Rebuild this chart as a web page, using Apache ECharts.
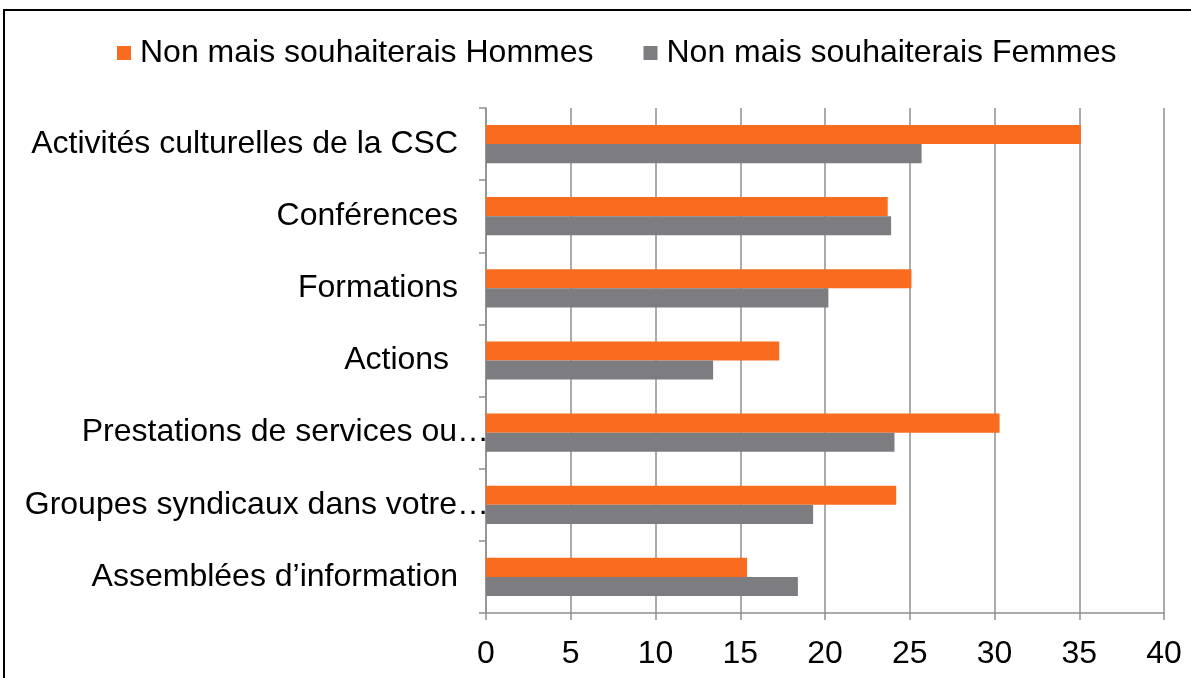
<!DOCTYPE html>
<html>
<head>
<meta charset="utf-8">
<style>
  html, body { margin: 0; padding: 0; background: #fff; }
  #chart { width: 1191px; height: 678px; }
</style>
<script src="https://cdn.jsdelivr.net/npm/echarts@6/dist/echarts.min.js"></script>
</head>
<body>
<div id="chart"></div>
<script>
// Categories (top to bottom) and the two survey series
const categories = [
  'Activités culturelles de la CSC',
  'Conférences',
  'Formations',
  'Actions ',
  'Prestations de services ou…',
  'Groupes syndicaux dans votre…',
  'Assemblées d\u2019information'
];
const seriesNames = ['Non mais souhaiterais Hommes', 'Non mais souhaiterais Femmes'];
const hommes = [35.1, 23.7, 25.1, 17.3, 30.3, 24.2, 15.4];
const femmes = [25.7, 23.9, 20.2, 13.4, 24.1, 19.3, 18.4];
const xTicks = [0, 5, 10, 15, 20, 25, 30, 35, 40];

const FONT = '"Liberation Sans", Arial, sans-serif';
const GRID_GRAY = '#8f8f8f';

const chart = echarts.init(document.getElementById('chart'));
chart.setOption({
  animation: false,
  backgroundColor: '#ffffff',
  textStyle: { fontFamily: FONT },
  graphic: [{
    type: 'rect',
    shape: { x: 4, y: 10, width: 1220, height: 720 },
    style: { fill: 'none', stroke: '#000', lineWidth: 2 },
    silent: true
  }],
  legend: {
    left: 117,
    top: 37,
    padding: 0,
    itemWidth: 14,
    itemHeight: 14,
    itemGap: 50,
    icon: 'rect',
    textStyle: { fontSize: 32, color: '#000', fontFamily: FONT, padding: [0, 0, 0, 4] },
    data: seriesNames
  },
  grid: { left: 486, right: 27, top: 108, bottom: 65, containLabel: false },
  xAxis: {
    type: 'value',
    min: xTicks[0],
    max: xTicks[xTicks.length - 1],
    interval: 5,
    axisLine: { show: true, lineStyle: { color: GRID_GRAY, width: 1.5 } },
    axisTick: { show: true, length: 7, lineStyle: { color: GRID_GRAY, width: 1.5 } },
    splitLine: { show: true, lineStyle: { color: GRID_GRAY, width: 1.5 } },
    axisLabel: { fontSize: 32, color: '#000', margin: 25, fontFamily: FONT }
  },
  yAxis: {
    type: 'category',
    inverse: true,
    data: categories,
    axisLine: { show: true, lineStyle: { color: GRID_GRAY, width: 1.5 } },
    axisTick: { show: true, length: 7, lineStyle: { color: GRID_GRAY, width: 1.5 } },
    axisLabel: {
      margin: -3,
      fontFamily: FONT,
      formatter: function (v) {
        return v.endsWith('…') ? '{t|' + v + '}' : '{n|' + v + '}';
      },
      rich: {
        n: { fontSize: 32, color: '#000', fontFamily: FONT, padding: [0, 31, 0, 0] },
        t: { fontSize: 32, color: '#000', fontFamily: FONT }
      }
    }
  },
  series: [
    {
      name: seriesNames[0],
      type: 'bar',
      data: hommes,
      itemStyle: { color: '#F96C1F' },
      barGap: '0%',
      barCategoryGap: '47%'
    },
    {
      name: seriesNames[1],
      type: 'bar',
      data: femmes,
      itemStyle: { color: '#7D7D81' },
      barGap: '0%',
      barCategoryGap: '47%'
    }
  ]
});
</script>
</body>
</html>
